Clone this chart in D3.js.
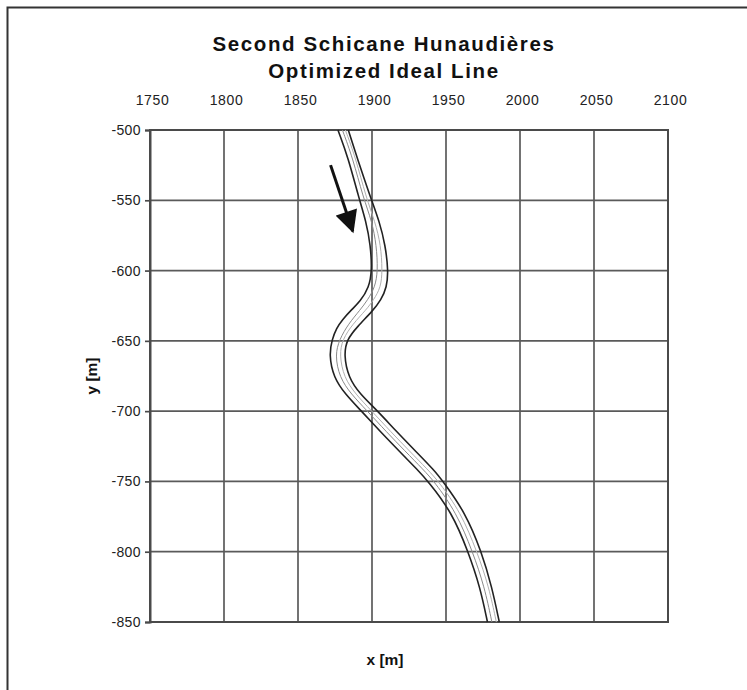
<!DOCTYPE html>
<html>
<head>
<meta charset="utf-8">
<script src="https://cdn.jsdelivr.net/npm/d3@7"></script>
<style>
  html, body { margin: 0; padding: 0; background: #fff; }
  svg { display: block; font-family: "Liberation Sans", Arial, sans-serif; }
</style>
</head>
<body>
<svg id="chart" width="747" height="690"></svg>
<script>
// ---- data (metres) ----
const titleLines = ["Second Schicane Hunaudières", "Optimized Ideal Line"];
const xTicks = [1750, 1800, 1850, 1900, 1950, 2000, 2050, 2100];
const yTicks = [-500, -550, -600, -650, -700, -750, -800, -850];
const xLabel = "x [m]";
const yLabel = "y [m]";

// track left border [x, y]
const leftEdge = [
  [1877,-500],[1884,-520],[1891,-548],[1896,-565],[1899,-582],[1900,-600],
  [1898,-612],[1892,-622],[1886,-628],[1880,-635],[1876,-641],[1873,-649],
  [1871,-660],[1874,-676],[1882,-688],[1892,-699],[1906,-715],[1918,-728],
  [1931,-742],[1938,-750],[1954,-772],[1965,-800],[1973,-825],[1978,-850]
];
// track right border [x, y]
const rightEdge = [
  [1884,-500],[1890,-520],[1899,-548],[1905,-565],[1909,-582],[1911,-600],
  [1910,-612],[1906,-621],[1901,-628],[1890,-640],[1883,-649],[1881,-660],
  [1884,-676],[1892,-688],[1903,-699],[1917,-715],[1929,-728],[1942,-742],
  [1948,-750],[1963,-772],[1974,-800],[1981,-825],[1986,-850]
];
// optimized ideal line [x, y]
const idealLine = [
  [1880,-500],[1887,-520],[1894,-548],[1900,-565],[1903,-582],[1904,-600],
  [1902,-612],[1897,-621],[1892,-628],[1884,-638],[1878,-649],[1875,-660],
  [1878,-676],[1886,-688],[1896,-699],[1910,-715],[1922,-728],[1935,-742],
  [1942,-750],[1957,-772],[1968,-800],[1976,-825],[1981,-850]
];
// original reference line [x, y]
const refLine = [
  [1882,-500],[1889,-520],[1896,-548],[1902,-565],[1906,-582],[1907,-600],
  [1906,-612],[1901,-621],[1896,-628],[1887,-638],[1880,-649],[1878,-660],
  [1881,-676],[1889,-688],[1899,-699],[1913,-715],[1925,-728],[1938,-742],
  [1945,-750],[1960,-772],[1971,-800],[1979,-825],[1984,-850]
];
// driving direction arrow [x, y] start -> end
const arrow = [[1872,-525],[1887,-572]];

// ---- drawing ----
const svg = d3.select("#chart");
const x = d3.scaleLinear().domain([1750, 2100]).range([150, 668]);
const y = d3.scaleLinear().domain([-500, -850]).range([130, 622]);
const numFmt = d => String(d);

// outer frame (right/bottom edges lie outside the picture)
svg.append("rect").attr("x", 7.5).attr("y", 7.5).attr("width", 780).attr("height", 720)
  .attr("fill", "none").attr("stroke", "#333").attr("stroke-width", 2);

// title
svg.append("g").selectAll("text").data(titleLines).join("text")
  .attr("x", 384).attr("y", (d, i) => 51 + i * 27)
  .attr("text-anchor", "middle").attr("font-weight", "bold").attr("font-size", 20.5)
  .attr("letter-spacing", 1.6).attr("fill", "#111").text(d => d);

// grid
const grid = svg.append("g").attr("stroke", "#5a5a5a").attr("stroke-width", 1.7);
grid.selectAll("line.v").data(xTicks).join("line").attr("class", "v")
  .attr("x1", d => x(d)).attr("x2", d => x(d)).attr("y1", y(-500)).attr("y2", y(-850));
grid.selectAll("line.h").data(yTicks).join("line").attr("class", "h")
  .attr("x1", x(1750)).attr("x2", x(2100)).attr("y1", d => y(d)).attr("y2", d => y(d));

// plot border
svg.append("rect").attr("x", x(1750)).attr("y", y(-500))
  .attr("width", x(2100) - x(1750)).attr("height", y(-850) - y(-500))
  .attr("fill", "none").attr("stroke", "#4a4a4a").attr("stroke-width", 2);

// top x axis labels
const xAxis = d3.axisTop(x).tickValues(xTicks).tickSize(0).tickPadding(25).tickFormat(numFmt);
const gx = svg.append("g").attr("transform", `translate(0,${y(-500)})`).call(xAxis);
gx.select(".domain").remove();
gx.selectAll("text").attr("font-size", 14).attr("letter-spacing", 0.6).attr("fill", "#222")
  .attr("dx", 2).attr("font-family", "Liberation Sans, Arial, sans-serif");

// left y axis
const yAxis = d3.axisLeft(y).tickValues(yTicks).tickSize(5).tickPadding(4).tickFormat(numFmt);
const gy = svg.append("g").attr("transform", `translate(${x(1750)},0)`).call(yAxis);
gy.select(".domain").attr("stroke", "#4a4a4a").attr("stroke-width", 2);
gy.selectAll(".tick line").attr("stroke", "#4a4a4a").attr("stroke-width", 1.7);
gy.selectAll("text").attr("font-size", 14).attr("letter-spacing", 0.4).attr("fill", "#222")
  .attr("font-family", "Liberation Sans, Arial, sans-serif");

// axis titles
svg.append("text").attr("x", 385).attr("y", 665).attr("text-anchor", "middle")
  .attr("font-weight", "bold").attr("font-size", 15.5).attr("fill", "#111").text(xLabel);
svg.append("text").attr("transform", `translate(97,${(y(-500)+y(-850))/2}) rotate(-90)`)
  .attr("text-anchor", "middle").attr("font-weight", "bold").attr("font-size", 15.5)
  .attr("fill", "#111").text(yLabel);

// track lines
const line = d3.line().x(d => x(d[0])).y(d => y(d[1])).curve(d3.curveBasis);
const tracks = svg.append("g").attr("fill", "none");
tracks.append("path").datum(refLine).attr("d", line).attr("stroke", "#b0b0b0").attr("stroke-width", 1);
tracks.append("path").datum(idealLine).attr("d", line).attr("stroke", "#8a8a8a").attr("stroke-width", 1);
tracks.append("path").datum(leftEdge).attr("d", line).attr("stroke", "#222").attr("stroke-width", 1.6);
tracks.append("path").datum(rightEdge).attr("d", line).attr("stroke", "#222").attr("stroke-width", 1.6);

// direction arrow
const defs = svg.append("defs");
defs.append("marker").attr("id", "head").attr("viewBox", "0 0 10 10")
  .attr("refX", 9).attr("refY", 5).attr("markerWidth", 8).attr("markerHeight", 7.5)
  .attr("markerUnits", "strokeWidth").attr("orient", "auto")
  .append("path").attr("d", "M0,0 L10,5 L0,10 Z").attr("fill", "#111");
svg.append("line")
  .attr("x1", x(arrow[0][0])).attr("y1", y(arrow[0][1]))
  .attr("x2", x(arrow[1][0])).attr("y2", y(arrow[1][1]))
  .attr("stroke", "#111").attr("stroke-width", 3).attr("marker-end", "url(#head)");
</script>
</body>
</html>
